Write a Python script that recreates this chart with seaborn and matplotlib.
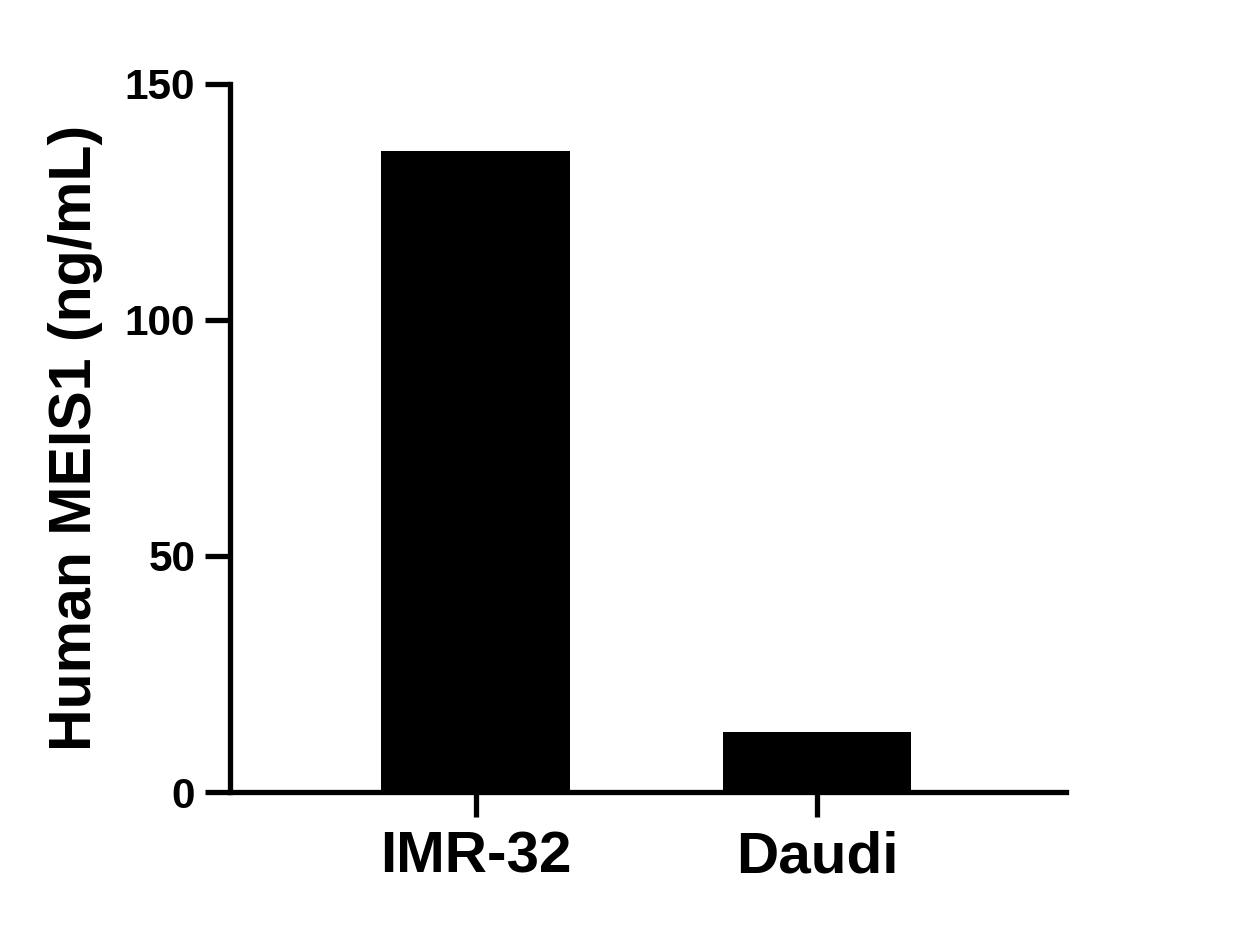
import seaborn as sns
import matplotlib.pyplot as plt
import pandas as pd

cell_lines = ["IMR-32", "Daudi"]
meis1_ng_ml = [135.8, 12.7]

df = pd.DataFrame({"cell_line": cell_lines, "value": meis1_ng_ml})

sns.set_style("ticks")
plt.rcParams["font.family"] = ["Liberation Sans", "DejaVu Sans"]
plt.rcParams["font.weight"] = "bold"
plt.rcParams["text.color"] = "black"
plt.rcParams["axes.labelcolor"] = "black"
plt.rcParams["xtick.labelcolor"] = "black"
plt.rcParams["ytick.labelcolor"] = "black"

fig = plt.figure(figsize=(12.44, 9.27), dpi=100)
ax = fig.add_axes([230 / 1244, 1 - 792 / 927, (1066 - 230) / 1244, (792 - 84) / 927])

sns.barplot(data=df, x="cell_line", y="value", color="black", width=0.553,
            saturation=1, edgecolor="none", ax=ax)

ax.set_xlim(-0.719, 1.729)
ax.set_ylim(0, 150)
ax.set_yticks([0, 50, 100, 150])

sns.despine(ax=ax)
for side in ["left", "bottom"]:
    ax.spines[side].set_linewidth(3.8)
    ax.spines[side].set_color("black")

ax.tick_params(axis="both", direction="out", length=18, width=3.8, color="black",
               labelcolor="black")
ax.tick_params(axis="y", labelsize=30.5, pad=7)
ax.tick_params(axis="x", labelsize=42, pad=10)
for lbl in ax.get_xticklabels() + ax.get_yticklabels():
    lbl.set_fontweight("bold")

ax.set_xlabel("")
ax.set_ylabel("Human MEIS1 (ng/mL)", fontsize=42.5, fontweight="bold",
              color="black", labelpad=16)

fig.savefig("out.png", dpi=100)
